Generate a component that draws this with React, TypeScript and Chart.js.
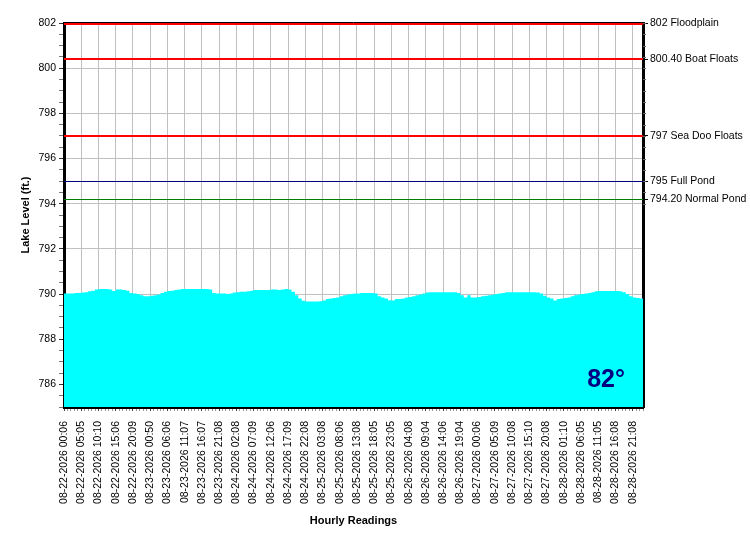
import React, { useEffect, useRef } from "react";
import { Chart, registerables } from "chart.js";

Chart.register(...registerables);

// tick labels shown on the x axis (one every 5 readings)
const tickLabels = [
  "08-22-2026 00:06", "08-22-2026 05:05", "08-22-2026 10:10", "08-22-2026 15:06",
  "08-22-2026 20:09", "08-23-2026 00:50", "08-23-2026 06:06", "08-23-2026 11:07",
  "08-23-2026 16:07", "08-23-2026 21:08", "08-24-2026 02:08", "08-24-2026 07:09",
  "08-24-2026 12:06", "08-24-2026 17:09", "08-24-2026 22:08", "08-25-2026 03:08",
  "08-25-2026 08:06", "08-25-2026 13:08", "08-25-2026 18:05", "08-25-2026 23:05",
  "08-26-2026 04:08", "08-26-2026 09:04", "08-26-2026 14:06", "08-26-2026 19:04",
  "08-27-2026 00:06", "08-27-2026 05:09", "08-27-2026 10:08", "08-27-2026 15:10",
  "08-27-2026 20:08", "08-28-2026 01:10", "08-28-2026 06:05", "08-28-2026 11:05",
  "08-28-2026 16:08", "08-28-2026 21:08",
];

// hourly lake level readings (ft.)
const levels = [
  790.02, 790.02, 790.03, 790.05, 790.05, 790.07, 790.08, 790.12, 790.15, 790.2,
  790.22, 790.22, 790.22, 790.2, 790.13, 790.2, 790.2, 790.18, 790.15, 790.05,
  790.02, 790.0, 789.95, 789.9, 789.9, 789.93, 789.95, 789.98, 790.05, 790.1,
  790.13, 790.15, 790.18, 790.2, 790.22, 790.22, 790.22, 790.22, 790.22, 790.22,
  790.22, 790.22, 790.2, 790.05, 790.03, 790.03, 790.03, 790.0, 790.02, 790.07,
  790.08, 790.1, 790.1, 790.12, 790.15, 790.18, 790.18, 790.18, 790.18, 790.18,
  790.2, 790.2, 790.18, 790.2, 790.22, 790.2, 790.1, 789.95, 789.8, 789.7,
  789.67, 789.67, 789.67, 789.67, 789.68, 789.72, 789.78, 789.8, 789.82, 789.85,
  789.9, 789.95, 789.98, 790.0, 790.02, 790.03, 790.05, 790.05, 790.05, 790.05,
  790.03, 789.9, 789.85, 789.8, 789.73, 789.72, 789.78, 789.78, 789.8, 789.85,
  789.87, 789.9, 789.95, 789.98, 790.02, 790.07, 790.08, 790.08, 790.08, 790.08,
  790.08, 790.08, 790.08, 790.08, 790.05, 789.95, 789.85, 789.95, 789.85, 789.85,
  789.87, 789.9, 789.93, 789.95, 789.97, 790.0, 790.02, 790.05, 790.08, 790.08,
  790.08, 790.08, 790.08, 790.08, 790.08, 790.08, 790.08, 790.07, 790.03, 789.92,
  789.85, 789.8, 789.72, 789.78, 789.8, 789.82, 789.85, 789.9, 789.95, 789.98,
  790.0, 790.02, 790.05, 790.08, 790.12, 790.13, 790.13, 790.13, 790.13, 790.13,
  790.13, 790.12, 790.08, 790.0, 789.9, 789.85, 789.82, 789.8, 789.8,
];

// reference levels on the right axis
const refValues = [802, 800.4, 797, 795, 794.2];
const refNames = ["802 Floodplain", "800.40 Boat Floats", "797 Sea Doo Floats", "795 Full Pond", "794.20 Normal Pond"];
const refColors = ["#ff0000", "#ff0000", "#ff0000", "#000080", "#008000"];
const refWidths = [2, 2, 2, 1, 1];

const temperature = "82°";

const LABEL_EVERY = 5;
const FONT = "'Liberation Sans', Arial, sans-serif";

const categories = levels.map((_, i) =>
  i % LABEL_EVERY === 0 ? tickLabels[i / LABEL_EVERY] ?? "" : ""
);

const overlay = {
  id: "overlay",
  afterDatasetsDraw(chart: Chart) {
    const { ctx, chartArea } = chart;
    const y = chart.scales.y;
    const y2 = chart.scales.y2;
    const top = Math.round(chartArea.top);
    ctx.save();
    // top frame
    ctx.strokeStyle = "#000";
    ctx.lineWidth = 1;
    ctx.beginPath();
    ctx.moveTo(chartArea.left, top - 0.5);
    ctx.lineTo(chartArea.right, top - 0.5);
    ctx.stroke();
    refValues.forEach((v, i) => {
      const w = refWidths[i];
      const py = Math.max(Math.round(y.getPixelForValue(v)), top + w / 2) + (w === 1 ? 0.5 : 0);
      ctx.strokeStyle = refColors[i];
      ctx.lineWidth = w;
      ctx.beginPath();
      ctx.moveTo(chartArea.left, py);
      ctx.lineTo(chartArea.right, py);
      ctx.stroke();
    });
    // minor ticks on the right axis
    ctx.strokeStyle = "#666";
    ctx.lineWidth = 1;
    for (let v = 794; v <= 802; v += 0.5) {
      const py = Math.round(y2.getPixelForValue(v)) + 0.5;
      ctx.beginPath();
      ctx.moveTo(chartArea.right, py);
      ctx.lineTo(chartArea.right + 3, py);
      ctx.stroke();
    }
    // temperature
    ctx.fillStyle = "#000080";
    ctx.font = `bold 25px ${FONT}`;
    ctx.textAlign = "right";
    ctx.textBaseline = "alphabetic";
    ctx.fillText(temperature, chartArea.right - 18, chartArea.bottom - 20);
    ctx.restore();
  },
};

const LakeChart = () => {
  const canvasRef = useRef<HTMLCanvasElement>(null);
  const chartRef = useRef<Chart | null>(null);

  useEffect(() => {
    if (!canvasRef.current) return;
    chartRef.current?.destroy();

    chartRef.current = new Chart(canvasRef.current, {
      type: "line",
      data: {
        labels: categories,
        datasets: [
          {
            data: levels,
            fill: "start",
            backgroundColor: "#00ffff",
            borderWidth: 0,
            pointRadius: 0,
            stepped: true,
          },
        ],
      },
      options: {
        responsive: false,
        animation: false,
        layout: { padding: { top: 23 } },
        plugins: {
          legend: { display: false },
          tooltip: { enabled: false },
        },
        scales: {
          x: {
            type: "category",
            afterFit: (s: any) => {
              s.height = 143;
            },
            grid: {
              color: (c: any) => (c.index % LABEL_EVERY === 0 ? "#c0c0c0" : "transparent"),
              tickColor: (c: any) => (c.index % LABEL_EVERY === 0 ? "#444" : "#999"),
              tickLength: 4,
            },
            border: { color: "#000", width: 3 },
            ticks: {
              autoSkip: false,
              maxRotation: 90,
              minRotation: 90,
              padding: 10,
              color: "#000",
              font: { family: FONT, size: 10.5 },
              callback: (_v: any, i: number) => categories[i],
            },
            title: {
              display: true,
              text: "Hourly Readings",
              color: "#000",
              font: { family: FONT, size: 11, weight: "bold" },
              padding: { top: 0, bottom: 22 },
            },
          },
          y: {
            type: "linear",
            position: "left",
            min: 785,
            max: 802,
            afterFit: (s: any) => {
              s.width = 64;
            },
            grid: {
              color: (c: any) => (c.tick && c.tick.value % 2 === 0 ? "#c0c0c0" : "transparent"),
              tickColor: (c: any) => (c.tick && c.tick.value % 2 === 0 ? "#333" : "#777"),
              tickLength: 5,
            },
            border: { color: "#000", width: 3 },
            ticks: {
              stepSize: 0.5,
              autoSkip: false,
              padding: 3,
              color: "#000",
              font: { family: FONT, size: 10.5 },
              callback: (v: any) => (v % 2 === 0 && v > 785 ? String(v) : ""),
            },
            title: {
              display: true,
              text: "Lake Level (ft.)",
              color: "#000",
              font: { family: FONT, size: 11, weight: "bold" },
              padding: { top: 19, bottom: 0 },
            },
          },
          y2: {
            type: "linear",
            position: "right",
            min: 785,
            max: 802,
            afterFit: (s: any) => {
              s.width = 107;
            },
            afterBuildTicks: (s: any) => {
              s.ticks = refValues.map((v) => ({ value: v }));
            },
            grid: {
              drawOnChartArea: false,
              tickColor: "#000",
              tickLength: 5,
            },
            border: { color: "#000", width: 3 },
            ticks: {
              autoSkip: false,
              padding: 2,
              color: "#000",
              font: { family: FONT, size: 10.5 },
              callback: (_v: any, i: number) => refNames[i],
            },
          },
        },
      },
      plugins: [overlay],
    } as any);

    return () => {
      chartRef.current?.destroy();
    };
  }, []);

  return (
    <div style={{ width: 750, height: 550, background: "#fff" }}>
      <canvas ref={canvasRef} width={750} height={550} style={{ display: "block" }} />
    </div>
  );
};

export default function App() {
  useEffect(() => {
    document.body.style.margin = "0";
  }, []);
  return <LakeChart />;
}
